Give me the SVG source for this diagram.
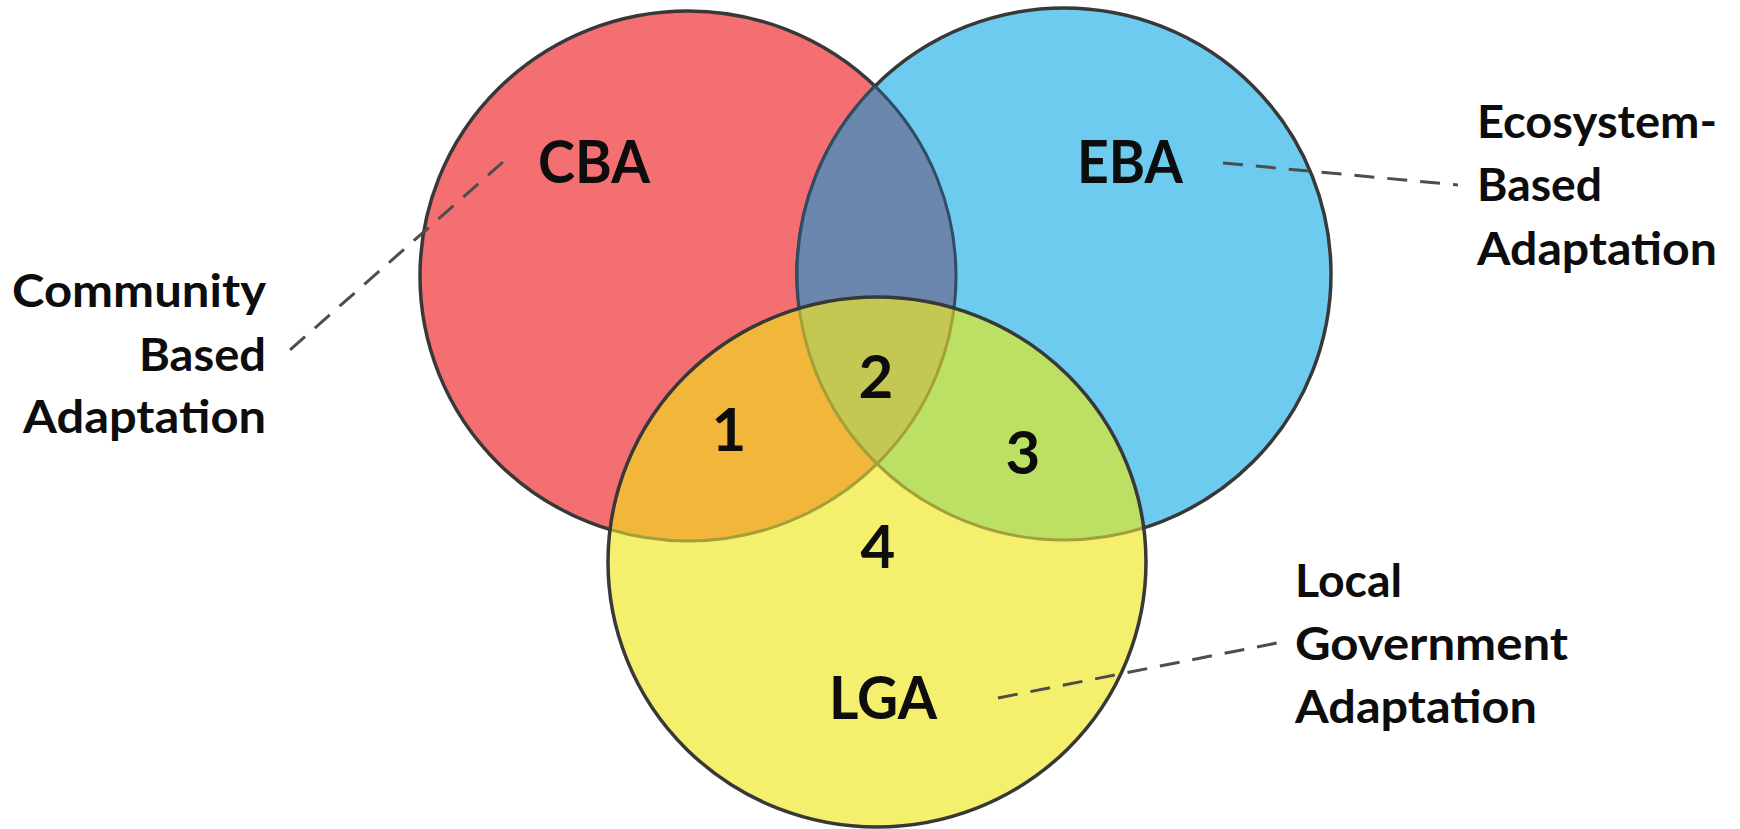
<svg xmlns="http://www.w3.org/2000/svg" xmlns:xlink="http://www.w3.org/1999/xlink" width="1740" height="829" viewBox="0 0 1740 829">
  <style>
    .t { font-family: Lato, "Liberation Sans", sans-serif; font-weight: 700; fill: #0d0d0d; }
    .big { font-size: 60px; }
    .side { font-size: 46px; }
    .outline { fill: none; stroke: #383838; stroke-width: 3.5; }
    .inner { fill: none; stroke: #2f4d66; stroke-width: 3; }
    .innerY { fill: none; stroke: #a3a03a; stroke-width: 3; }
    .lead { fill: none; stroke: #4d4d4d; stroke-width: 3; stroke-dasharray: 20 13; }
  </style>
  <defs>
    <ellipse id="eR" cx="688" cy="276" rx="268" ry="265"/>
    <ellipse id="eB" cx="1064" cy="274" rx="267" ry="266"/>
    <ellipse id="eY" cx="877" cy="562" rx="269" ry="265"/>
    <clipPath id="cR"><ellipse cx="688" cy="276" rx="268" ry="265"/></clipPath>
    <clipPath id="cB"><ellipse cx="1064" cy="274" rx="267" ry="266"/></clipPath>
    <clipPath id="cY"><ellipse cx="877" cy="562" rx="269" ry="265"/></clipPath>
  </defs>
  <rect width="1740" height="829" fill="#ffffff"/>

  <g id="node-cba">
    <use xlink:href="#eR" href="#eR" fill="#f36f72"/>
    <use xlink:href="#eR" href="#eR" class="outline"/>
    <text class="t big" x="538" y="183" textLength="112" lengthAdjust="spacingAndGlyphs">CBA</text>
    <text class="t side" x="12" y="307" textLength="254" lengthAdjust="spacingAndGlyphs">Community</text>
    <text class="t side" x="139" y="371" textLength="127" lengthAdjust="spacingAndGlyphs">Based</text>
    <text class="t side" x="23" y="433" textLength="243" lengthAdjust="spacingAndGlyphs">Adaptation</text>
  </g>

  <g id="node-eba">
    <use xlink:href="#eB" href="#eB" fill="#6ccbef"/>
    <use xlink:href="#eB" href="#eB" class="outline"/>
    <text class="t big" x="1077" y="183" textLength="106" lengthAdjust="spacingAndGlyphs">EBA</text>
    <text class="t side" x="1477" y="138" textLength="240" lengthAdjust="spacingAndGlyphs">Ecosystem-</text>
    <text class="t side" x="1477" y="201" textLength="125" lengthAdjust="spacingAndGlyphs">Based</text>
    <text class="t side" x="1477" y="265" textLength="240" lengthAdjust="spacingAndGlyphs">Adaptation</text>
  </g>

  <g id="overlap-cba-eba">
    <g clip-path="url(#cR)">
      <use xlink:href="#eB" href="#eB" fill="#6c87ad"/>
      <use xlink:href="#eB" href="#eB" class="inner"/>
    </g>
    <g clip-path="url(#cB)">
      <use xlink:href="#eR" href="#eR" class="inner"/>
    </g>
  </g>

  <g id="node-lga">
    <use xlink:href="#eY" href="#eY" fill="#f4f06e"/>
    <text class="t big" x="829" y="719" textLength="108" lengthAdjust="spacingAndGlyphs">LGA</text>
    <text class="t side" x="1295" y="597" textLength="107" lengthAdjust="spacingAndGlyphs">Local</text>
    <text class="t side" x="1295" y="660" textLength="273" lengthAdjust="spacingAndGlyphs">Government</text>
    <text class="t side" x="1295" y="723" textLength="242" lengthAdjust="spacingAndGlyphs">Adaptation</text>
  </g>

  <g id="overlaps-lga">
    <g clip-path="url(#cR)">
      <use xlink:href="#eY" href="#eY" fill="#f2b73a"/>
    </g>
    <g clip-path="url(#cB)">
      <use xlink:href="#eY" href="#eY" fill="#bbe063"/>
    </g>
    <g clip-path="url(#cR)">
      <g clip-path="url(#cB)">
        <use xlink:href="#eY" href="#eY" fill="#c4c752"/>
      </g>
    </g>
    <g clip-path="url(#cY)">
      <use xlink:href="#eR" href="#eR" class="innerY"/>
      <use xlink:href="#eB" href="#eB" class="innerY"/>
    </g>
    <use xlink:href="#eY" href="#eY" class="outline"/>
    <g class="t big" text-anchor="middle">
      <text x="729" y="451">1</text>
      <text x="876" y="398">2</text>
      <text x="1023" y="474">3</text>
      <text x="878" y="568">4</text>
    </g>
  </g>

  <g id="connectors">
    <line class="lead" x1="503" y1="162" x2="282" y2="357"/>
    <line class="lead" x1="1223" y1="163" x2="1458" y2="185"/>
    <line class="lead" x1="998" y1="698" x2="1277" y2="643"/>
  </g>
</svg>
